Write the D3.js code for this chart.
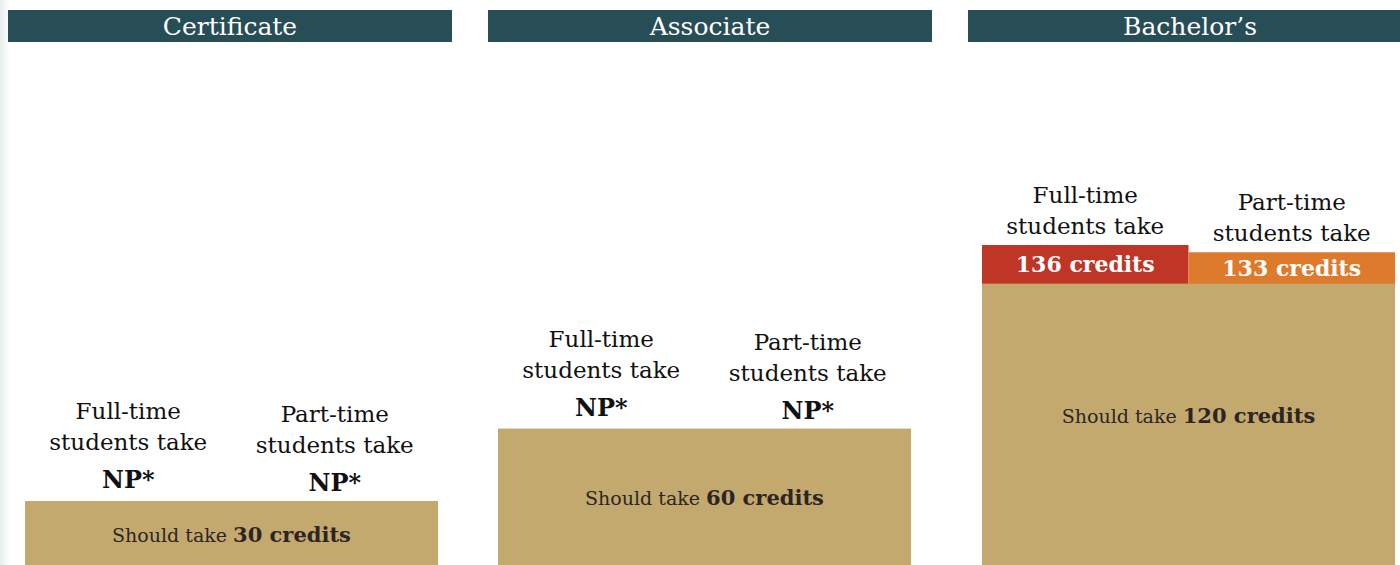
<!DOCTYPE html>
<html><head><meta charset="utf-8">
<script src="https://cdn.jsdelivr.net/npm/d3@7"></script>
<style>html,body{margin:0;padding:0;background:#fff;}svg{display:block;}</style>
</head><body>
<script>
// ---- data ----
const degrees = ["Certificate", "Associate", "Bachelor\u2019s"];
const shouldTake = [30, 60, 120];
const fullTime = [null, null, 136];
const partTime = [null, null, 133];
const seriesNames = ["Full-time", "Part-time"];
const npLabel = "NP*";

// ---- layout ----
const W = 1400, H = 565;
const FONT = "'DejaVu Serif', serif";
const colors = { header: "#274d57", tan: "#c4a96e", full: "#bf3526", part: "#de7a2b", text: "#111", tanText: "#2b2622" };
const tanInset = [17, 10, 14], tanWidth = 413;
const tanLabelDy = [2, 1, -8];

const svg = d3.select("body").append("svg").attr("width", W).attr("height", H);
const defs = svg.append("defs");
const g = defs.append("linearGradient").attr("id", "edge").attr("x1", 0).attr("x2", 1);
g.append("stop").attr("offset", 0).attr("stop-color", "#e9eded");
g.append("stop").attr("offset", 1).attr("stop-color", "#ffffff");
svg.append("rect").attr("x", 0).attr("y", 0).attr("width", 10).attr("height", H).attr("fill", "url(#edge)");

const panel = d3.scaleBand().domain(degrees).range([8, 1412]).paddingInner(0.075).paddingOuter(0);
const y = d3.scaleLinear().domain([0, 136]).range([573.5, 245]);
const sub = d3.scaleBand().domain(seriesNames).range([0, tanWidth]);

degrees.forEach((deg, i) => {
  const px = panel(deg);
  const grp = svg.append("g");
  // header
  grp.append("rect").attr("x", px).attr("y", 10).attr("width", panel.bandwidth()).attr("height", 32).attr("fill", colors.header);
  grp.append("text").attr("x", px + panel.bandwidth() / 2).attr("y", 35)
    .attr("text-anchor", "middle").attr("fill", "#fff").style("font-family", FONT).style("font-size", "25px").text(deg);

  const tx = px + tanInset[i];
  const tanTop = y(shouldTake[i]);
  const vals = [fullTime[i], partTime[i]];
  const barColors = [colors.full, colors.part];

  // stacked excess bars
  vals.forEach((v, j) => {
    const sx = tx + sub(seriesNames[j]);
    if (v != null) {
      grp.append("rect").attr("x", sx).attr("y", y(v)).attr("width", sub.bandwidth()).attr("height", y(shouldTake[i]) - y(v) + 3).attr("fill", barColors[j]);
      grp.append("text").attr("x", sx + sub.bandwidth() / 2).attr("y", (y(v) + tanTop) / 2 + 8)
        .attr("text-anchor", "middle").attr("fill", "#fff").style("font-family", FONT).style("font-weight", "bold").style("font-size", "22px")
        .text(v + " credits");
    }
  });
  // tan bar
  grp.append("rect").attr("x", tx).attr("y", tanTop).attr("width", tanWidth).attr("height", y(0) - tanTop).attr("fill", colors.tan);
  const tl = grp.append("text").attr("x", tx + tanWidth / 2).attr("y", (tanTop + H) / 2 + 7 + tanLabelDy[i])
    .attr("text-anchor", "middle").attr("fill", colors.tanText).style("font-family", FONT).style("font-size", "19px");
  tl.append("tspan").text("Should take ");
  tl.append("tspan").style("font-weight", "bold").style("font-size", "21px").text(shouldTake[i] + " credits");

  // series labels
  vals.forEach((v, j) => {
    const cx = tx + sub(seriesNames[j]) + sub.bandwidth() / 2;
    let base;
    if (v != null) {
      base = y(v) - 11;
    } else {
      const npY = tanTop - 13 + (j === 1 ? 3 : 0);
      grp.append("text").attr("x", cx).attr("y", npY).attr("text-anchor", "middle").attr("fill", colors.text)
        .style("font-family", FONT).style("font-weight", "bold").style("font-size", "24px").text(npLabel);
      base = npY - 38;
    }
    grp.append("text").attr("x", cx).attr("y", base).attr("text-anchor", "middle").attr("fill", colors.text)
      .style("font-family", FONT).style("font-size", "23px").text("students take");
    grp.append("text").attr("x", cx).attr("y", base - 31).attr("text-anchor", "middle").attr("fill", colors.text)
      .style("font-family", FONT).style("font-size", "23px").text(seriesNames[j]);
  });
});
</script>
</body></html>
